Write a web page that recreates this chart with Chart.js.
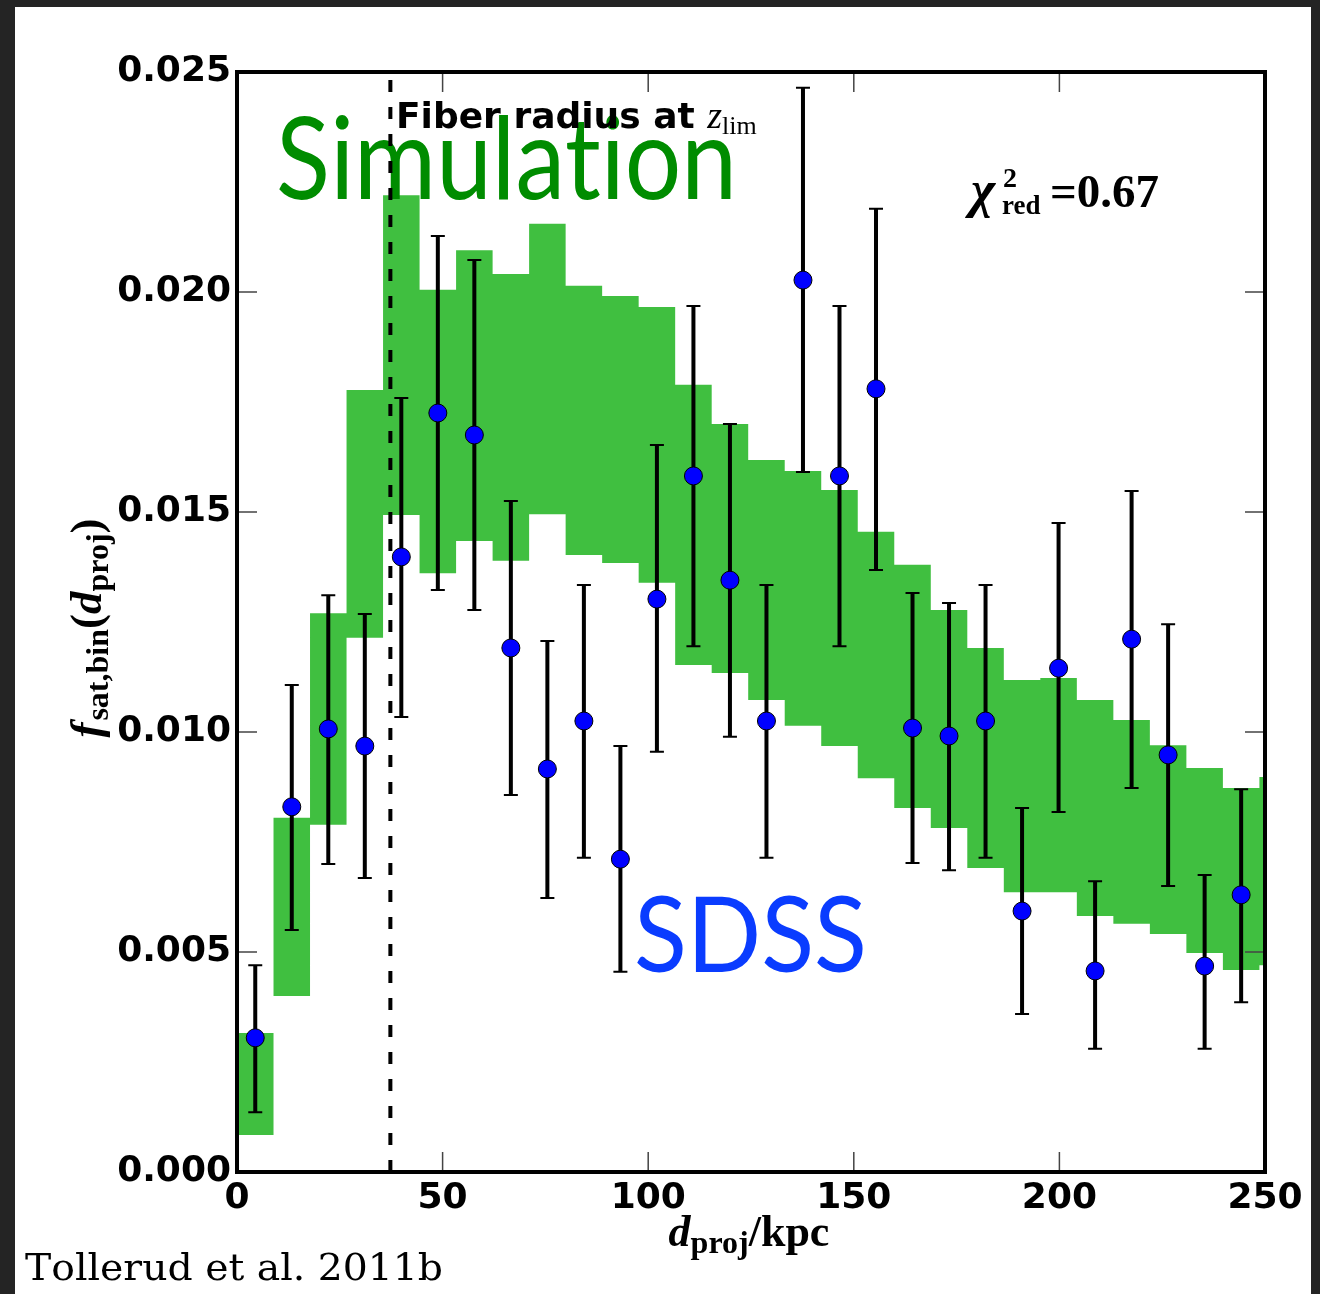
<!DOCTYPE html>
<html>
<head>
<meta charset="utf-8">
<script src="https://cdn.jsdelivr.net/npm/chart.js@4.4.1/dist/chart.umd.min.js"></script>
<style>
  html, body { margin: 0; padding: 0; background: #242424; overflow: hidden; }
  #sheet { position: absolute; left: 15px; top: 7px; width: 1296px; height: 1287px; background: #fff; }
  #chart { position: absolute; left: 0; top: 0; }
</style>
</head>
<body>
<div id="sheet"></div>
<canvas id="chart" width="1320" height="1294"></canvas>
<script>
// SDSS points (bin centres in kpc)
const binCenters = [4.44, 13.32, 22.2, 31.08, 39.96, 48.84, 57.72, 66.6, 75.48, 84.36, 93.24, 102.12, 111.0, 119.88,
  128.76, 137.64, 146.52, 155.4, 164.28, 173.16, 182.04, 190.92, 199.8, 208.68, 217.56, 226.44, 235.32, 244.2];
const sdssFrac = [0.00305, 0.0083, 0.01007, 0.00968, 0.01398, 0.01725, 0.01675, 0.01191, 0.00916, 0.01025, 0.00711,
  0.01302, 0.01582, 0.01345, 0.01025, 0.02027, 0.01582, 0.0178, 0.01009, 0.00991, 0.01025, 0.00593, 0.01145,
  0.00457, 0.01211, 0.00948, 0.00468, 0.0063];
const errHigh = [0.0047, 0.01107, 0.01311, 0.01268, 0.01759, 0.02127, 0.02073, 0.01525, 0.01207, 0.01334, 0.00968,
  0.01652, 0.01968, 0.017, 0.01334, 0.02464, 0.01968, 0.02189, 0.01316, 0.01293, 0.01334, 0.00827, 0.01475,
  0.00661, 0.01548, 0.01245, 0.00675, 0.0087];
const errLow = [0.00136, 0.0055, 0.007, 0.00668, 0.01034, 0.01323, 0.01277, 0.00857, 0.00623, 0.00714, 0.00455,
  0.00955, 0.01195, 0.00989, 0.00714, 0.01591, 0.01195, 0.01368, 0.00702, 0.00686, 0.00714, 0.00359, 0.00818,
  0.0028, 0.00873, 0.0065, 0.0028, 0.00386];

// simulation band, one value per bin (last bin runs past 250 and is clipped)
const bandEdges = [0, 8.88, 17.76, 26.64, 35.52, 44.4, 53.28, 62.16, 71.04, 79.92, 88.8, 97.68, 106.56, 115.44,
  124.32, 133.2, 142.08, 150.96, 159.84, 168.72, 177.6, 186.48, 195.36, 204.24, 213.12, 222, 230.88, 239.76,
  248.64, 257.52];
const bandHigh = [0.00316, 0.00805, 0.0127, 0.01777, 0.0222, 0.02005, 0.02095, 0.02041, 0.02155, 0.02014, 0.01991,
  0.01966, 0.01789, 0.017, 0.01618, 0.01593, 0.0155, 0.01455, 0.0138, 0.01277, 0.01191, 0.01118, 0.01123,
  0.01073, 0.01027, 0.0097, 0.00918, 0.00873, 0.00898];
const bandLow = [0.00084, 0.004, 0.00789, 0.01214, 0.01493, 0.01361, 0.01434, 0.01389, 0.01495, 0.01402, 0.01384,
  0.01339, 0.01152, 0.01134, 0.01073, 0.01014, 0.00968, 0.00895, 0.00827, 0.00782, 0.00691, 0.00636, 0.00636,
  0.00582, 0.00564, 0.00541, 0.00498, 0.00459, 0.0047];

const fiberRadius = 37.3;
const xTicks = [0, 50, 100, 150, 200, 250];
const yTicks = [0, 0.005, 0.01, 0.015, 0.02, 0.025];

const stepPoints = vals => {
  const pts = vals.map((v, i) => ({ x: bandEdges[i], y: v }));
  pts.push({ x: bandEdges[vals.length], y: vals[vals.length - 1] });
  return pts;
};

// draw text pieces one after another (sub/superscripts), returns width
function drawRuns(ctx, parts, x, y, measureOnly) {
  let cx = x;
  parts.forEach(p => {
    ctx.font = p.f;
    if (!measureOnly) ctx.fillText(p.t, cx, y + (p.dy || 0));
    cx += ctx.measureText(p.t).width + (p.gap || 0);
  });
  return cx - x;
}

// char by char (no ligatures), stretched to a target width
function fitText(ctx, text, font, x, y, width) {
  ctx.font = font;
  const chars = [...text];
  const w = chars.reduce((s, c) => s + ctx.measureText(c).width, 0);
  ctx.save();
  ctx.translate(x, y);
  ctx.scale(width / w, 1);
  let cx = 0;
  chars.forEach(c => { ctx.fillText(c, cx, 0); cx += ctx.measureText(c).width; });
  ctx.restore();
}

const serifB = s => `bold ${s}px "Liberation Serif"`;
const serifBI = s => `italic bold ${s}px "Liberation Serif"`;

const decor = {
  id: 'decor',
  beforeDatasetDraw(chart, args) {
    if (args.index !== 2) return;
    const { ctx, scales: { x, y } } = chart;
    ctx.save();
    ctx.strokeStyle = '#000';
    binCenters.forEach((c, i) => {
      const px = x.getPixelForValue(c);
      const top = y.getPixelForValue(errHigh[i]);
      const bot = y.getPixelForValue(errLow[i]);
      ctx.lineWidth = 4;
      ctx.beginPath();
      ctx.moveTo(px, top);
      ctx.lineTo(px, bot);
      ctx.stroke();
      ctx.lineWidth = 2;
      ctx.beginPath();
      ctx.moveTo(px - 7, top); ctx.lineTo(px + 7, top);
      ctx.moveTo(px - 7, bot); ctx.lineTo(px + 7, bot);
      ctx.stroke();
    });
    ctx.restore();
  },
  afterDraw(chart) {
    const { ctx, chartArea: ca, scales: { x, y } } = chart;
    ctx.save();
    ctx.textAlign = 'left';
    ctx.textBaseline = 'alphabetic';

    // big labels
    ctx.fillStyle = '#008c00';
    fitText(ctx, 'Simulation', '114px Lato', 276, 199, 461);
    ctx.fillStyle = '#0a3cff';
    fitText(ctx, 'SDSS', '104px Lato', 634, 972, 233);

    // fibre label
    ctx.fillStyle = '#000';
    drawRuns(ctx, [
      { t: 'Fiber radius at ', f: 'bold 36px "DejaVu Sans"' },
      { t: 'z', f: 'italic 38px "Liberation Serif"' },
      { t: 'lim', f: '26px "Liberation Serif"', dy: 6 }
    ], 396, 128);

    // reduced chi square
    ctx.font = serifBI(52);
    ctx.fillText('\u03c7', 971, 207);
    ctx.font = serifB(28);
    ctx.fillText('2', 1003, 187);
    ctx.font = serifB(27);
    ctx.fillText('red', 1002, 214);
    ctx.font = serifB(47);
    ctx.fillText('=0.67', 1050, 207);

    // x axis title
    const xt = [
      { t: 'd', f: serifBI(44) },
      { t: 'proj', f: serifB(32), dy: 7 },
      { t: '/kpc', f: serifB(44) }
    ];
    const xw = drawRuns(ctx, xt, 0, 0, true);
    drawRuns(ctx, xt, 749 - xw / 2, 1246);

    // y axis title
    const yt = [
      { t: 'f', f: serifBI(45), gap: 2 },
      { t: 'sat,bin', f: serifB(32), dy: 7 },
      { t: '(', f: serifB(45) },
      { t: 'd', f: serifBI(45) },
      { t: 'proj', f: serifB(32), dy: 7 },
      { t: ')', f: serifB(45) }
    ];
    const yw = drawRuns(ctx, yt, 0, 0, true);
    ctx.save();
    ctx.translate(101, 628);
    ctx.rotate(-Math.PI / 2);
    drawRuns(ctx, yt, -yw / 2, 0);
    ctx.restore();

    // credit
    fitText(ctx, 'Tollerud et al. 2011b', '38px "DejaVu Serif"', 25, 1280, 418);

    // fibre radius marker
    const fx = x.getPixelForValue(fiberRadius);
    ctx.strokeStyle = '#000';
    ctx.lineWidth = 4;
    ctx.setLineDash([12, 15]);
    ctx.beginPath();
    ctx.moveTo(fx, ca.bottom);
    ctx.lineTo(fx, ca.top);
    ctx.stroke();
    ctx.setLineDash([]);

    // inward ticks on all four sides
    ctx.strokeStyle = '#444';
    ctx.lineWidth = 1.5;
    ctx.beginPath();
    xTicks.forEach(v => {
      const px = x.getPixelForValue(v);
      ctx.moveTo(px, ca.bottom); ctx.lineTo(px, ca.bottom - 20);
      ctx.moveTo(px, ca.top); ctx.lineTo(px, ca.top + 20);
    });
    yTicks.forEach(v => {
      const py = y.getPixelForValue(v);
      ctx.moveTo(ca.left, py); ctx.lineTo(ca.left + 20, py);
      ctx.moveTo(ca.right, py); ctx.lineTo(ca.right - 20, py);
    });
    ctx.stroke();

    // frame
    ctx.strokeStyle = '#000';
    ctx.lineWidth = 4;
    ctx.strokeRect(ca.left, ca.top, ca.right - ca.left, ca.bottom - ca.top);
    ctx.restore();
  }
};

const tickFont = { family: '"DejaVu Sans"', size: 36, weight: 'bold' };

new Chart(document.getElementById('chart'), {
  type: 'scatter',
  data: {
    datasets: [
      {
        type: 'line', data: stepPoints(bandLow), stepped: 'before', fill: false, order: 2,
        borderWidth: 0, borderColor: 'rgba(0,0,0,0)', pointRadius: 0
      },
      {
        type: 'line', data: stepPoints(bandHigh), stepped: 'before', fill: '-1', order: 1,
        backgroundColor: '#40bf40', borderWidth: 0, borderColor: 'rgba(0,0,0,0)', pointRadius: 0
      },
      {
        data: binCenters.map((c, i) => ({ x: c, y: sdssFrac[i] })), order: 0,
        pointRadius: 9, backgroundColor: '#0000ff', borderColor: '#000', borderWidth: 1
      }
    ]
  },
  options: {
    responsive: false,
    animation: false,
    events: [],
    layout: { padding: { left: 0, top: 72, right: 55, bottom: 0 } },
    plugins: { legend: { display: false }, tooltip: { enabled: false } },
    scales: {
      x: {
        type: 'linear', min: 0, max: 250,
        grid: { display: false, drawTicks: false },
        border: { display: false },
        ticks: { stepSize: 50, font: tickFont, color: '#000', padding: 5, maxRotation: 0 },
        afterFit(s) { s.height = 122; }
      },
      y: {
        type: 'linear', min: 0, max: 0.025,
        grid: { display: false, drawTicks: false },
        border: { display: false },
        ticks: { stepSize: 0.005, font: tickFont, color: '#000', padding: 6, callback: v => v.toFixed(3) },
        afterFit(s) { s.width = 237; }
      }
    }
  },
  plugins: [decor]
});
</script>
</body>
</html>
